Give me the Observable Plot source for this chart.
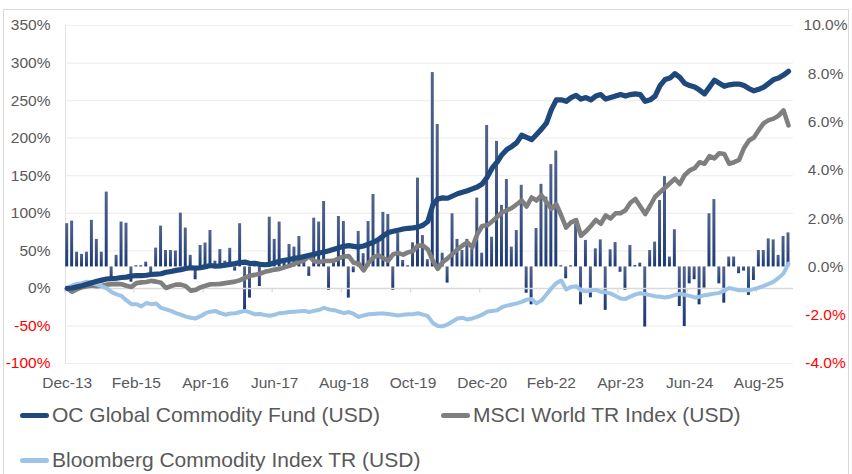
<!DOCTYPE html>
<html>
<head>
<meta charset="utf-8">
<script src="https://cdn.jsdelivr.net/npm/d3@7"></script>
<script src="https://cdn.jsdelivr.net/npm/@observablehq/plot@0.6"></script>
<style>
  html, body { margin: 0; padding: 0; background: #fff; }
  #wrap { position: relative; width: 852px; height: 474px; overflow: hidden; font-family: "Liberation Sans", Arial, sans-serif; }
  #border { position: absolute; left: 3px; top: 9px; width: 846px; height: 480px; border: 1px solid #d9d9d9; box-sizing: border-box; }
  #chart { position: absolute; left: 0; top: 0; }
  .leg { position: absolute; display: flex; align-items: center; height: 30px; font-size: 21px; color: #595959; white-space: nowrap; }
  .sw { display: inline-block; width: 29px; height: 5px; border-radius: 3px; margin-right: 3px; }
</style>
</head>
<body>
<div id="wrap">
  <div id="border"></div>
  <div id="chart"></div>
  <div id="legend"></div>
</div>
<script>
// ---------- data (monthly, Dec-13 onward) ----------
const ocFund = [0,0.5,2,3.5,5.5,7.5,9.5,11,12.5,13,13.5,14.5,15,16.5,17,17,17.5,18.5,19,19.5,
21.5,22.5,24,25,26.5,27.5,27,27.5,29,30.5,29.5,30,31,32,33,34.5,35,33,33.5,32,
31.5,32,34,36,37.5,38.5,40,41,42.5,44,45.5,47,48.5,50,52,54,56,57,56,55,
56.5,59,61.5,65,70,74.5,76,77.5,79,80,80.5,81.5,84,89,111,119,120.5,120,123,126,
128,130,132.5,135,139,148,160,168,178,185,189,194,204,201,198,205,212,220,238,251,
251,249,254,257,252,254,251,256,258,252,254,256,258,256,258,259,258,249,251,256,
270,278,280,286,281,273,270,268,264,259,268,277,273,269,271,272,272,270,266,263,
265,268,273,278,280,284,289];

const msciWorld = [0,-4.5,-1,1.5,3,4,3,3.5,5,5.5,6,5.5,3.5,2,7,8,8.5,10,9,7.5,
0.5,3,5,5,3,-3,-2,1.5,3.5,5.5,5.5,6,7,8,9,11,14,17,18,19.5,
22,23.5,25,26,28,30,33,35,38,43,36,35,36.5,36.5,37,40,42.5,43,34,33,
24,34,41.5,44,40,37,45.5,47,45,48,50,57,57,52,37,26,35,40,46,52,
57,61,55,72,83,84,89,95,101,104,107,112,117,109,121,117,124,115,106,112,
97,81,88,91,70,76,83,91,86,97,93,100,100,104,114,119,109,99,110,122,
128,134,140,146,139,151,157,160,168,166,176,173,180,179,166,168,171,187,197,201,
211,220,224,226,230,237,217];

const bbgCommodity = [0,4,6,7,9,7.5,5,3,0,-5,-8,-10,-16,-21,-21,-24,-19.5,-21,-20,-26,
-28,-30,-33,-35,-37.5,-39,-40,-37,-33,-31,-30,-33,-35,-33.5,-33,-31.5,-30,-32,-34.5,-34,
-35.5,-36.5,-35,-33,-32.5,-31.5,-31,-30.5,-30,-31.5,-30,-28.5,-26,-28,-29,-31,-33,-31.5,-34,-38,
-36,-34.5,-34,-33.5,-33.5,-34,-35,-36,-35,-34.5,-34.5,-33,-35,-37,-46,-50,-50.5,-48,-44,-40,
-39,-41.5,-40,-38,-35,-31,-30,-29,-25,-23,-21.5,-20,-18,-15,-14,-20,-16,-8,0,7,
10.5,-1.5,2,3,-2.5,-4,-3,-2,-4.5,-5,-7,-10,-13.5,-14,-11,-8,-6.5,-7.5,-9,-10.5,
-11,-12,-11,-9,-7,-8.5,-10,-12,-11,-9,-8,-7,-6,-3,0.5,-1,-2.5,-2.5,-2.5,-1,
1,3.5,6,9,14,20,33];

// monthly returns (right axis, %)
const monthlyReturn = [1.79,1.90,0.61,0.52,0.61,1.93,1.14,0.61,3.10,-0.53,0.48,1.86,1.81,-0.63,0.05,0.05,0.2,-0.42,0.78,1.69,
0.68,0.68,0.66,2.23,1.61,0.48,-0.53,0.89,0.99,1.51,0.24,0.72,0.24,0.77,-0.17,1.79,-1.80,-1.29,0.1,-0.81,
0.15,2.06,1.14,1.86,0.3,0.93,0.82,1.26,0.2,-0.39,2.02,1.86,2.71,-0.97,0.2,2.09,1.88,-1.29,-0.24,1.47,
0.55,1.88,3.0,1.1,2.26,2.17,-0.97,1.38,0.27,0.05,1.0,3.68,1.3,0.3,8.05,5.9,0.57,-0.67,2.2,1.14,
0.68,1.14,0.75,2.85,0.57,5.86,1.23,5.2,2.55,3.62,0.82,1.51,3.38,-1.09,-1.57,1.59,3.42,2.89,4.24,4.8,
0.05,-0.49,0.05,1.76,-1.57,1.1,-1.28,0.75,1.12,-1.8,0.71,1.01,-0.22,-0.97,0.89,0.06,0.16,-2.49,0.68,1.03,
2.75,3.74,0.41,1.54,-1.64,-2.47,-0.7,-0.53,-1.57,-0.88,2.2,2.79,-0.7,-1.5,0.41,0.41,-0.28,-0.17,-1.18,-0.56,
0.68,0.68,1.16,1.12,0.48,1.26,1.41];

const xTickLabels = ["Dec-13","Feb-15","Apr-16","Jun-17","Aug-18","Oct-19","Dec-20","Feb-22","Apr-23","Jun-24","Aug-25"];
const xTickEvery = 14;
const leftTicks = [-100,-50,0,50,100,150,200,250,300,350];
const rightTicks = [-4,-2,0,2,4,6,8,10];

const seriesNames = ["OC Global Commodity Fund (USD)", "MSCI World TR Index (USD)", "Bloomberg Commodity Index TR (USD)"];
const seriesColors = ["#1f497d", "#7f7f7f", "#9dc3e6"];

// ---------- helpers ----------
const N = ocFund.length;
const L0 = leftTicks[0], L1 = leftTicks[leftTicks.length - 1];
const R0 = rightTicks[0], R1 = rightTicks[rightTicks.length - 1];
const toLeft = r => L0 + (r - R0) * (L1 - L0) / (R1 - R0);
const fromLeft = l => R0 + (l - L0) * (R1 - R0) / (L1 - L0);

const lineData = [];
[ocFund, msciWorld, bbgCommodity].forEach((arr, s) => arr.forEach((v, i) => lineData.push({i, v, s: seriesNames[s]})));
const barData = monthlyReturn.map((v, i) => ({i, v}));
const tickIdx = xTickLabels.map((_, k) => k * xTickEvery);
const labelOf = new Map(tickIdx.map((t, k) => [t, xTickLabels[k]]));

const grey = "#595959", red = "#ff0000";

const plot = Plot.plot({
  width: 852, height: 400,
  marginLeft: 65, marginRight: 59, marginTop: 25, marginBottom: 37,
  x: {domain: [0, N - 1], range: [66.7, 788], axis: null},
  y: {domain: [L0, L1], axis: null},
  style: {fontFamily: "'Liberation Sans', Arial, sans-serif", fontSize: "15.5px", background: "transparent", overflow: "visible"},
  marks: [
    Plot.ruleY(leftTicks.filter(d => d !== 0), {stroke: "#efefef", strokeWidth: 1.2}),
    Plot.frame({anchor: "left", stroke: "#e3e3e3"}),
    Plot.rect(barData, {x1: d => d.i - 0.3, x2: d => d.i + 0.3, y1: () => toLeft(0), y2: d => toLeft(d.v), fill: "url(#barGrad)", inset: 0}),
    Plot.ruleY([0], {stroke: "#d9d9d9", strokeWidth: 1.5}),
    Plot.ruleX(tickIdx.map(t => t - 0.5), {y1: 0, y2: -6, stroke: "#d9d9d9", strokeWidth: 1.2}),
    Plot.line(lineData.filter(d => d.s === seriesNames[1]), {x: "i", y: "v", stroke: seriesColors[1], strokeWidth: 4.6, strokeLinejoin: "round", strokeLinecap: "round"}),
    Plot.line(lineData.filter(d => d.s === seriesNames[2]), {x: "i", y: "v", stroke: seriesColors[2], strokeWidth: 4, strokeLinejoin: "round", strokeLinecap: "round"}),
    Plot.line(lineData.filter(d => d.s === seriesNames[0]), {x: "i", y: "v", stroke: seriesColors[0], strokeWidth: 5.2, strokeLinejoin: "round", strokeLinecap: "round"}),
    Plot.axisY(leftTicks.filter(d => d >= 0), {anchor: "left", label: null, tickSize: 0, tickPadding: 15, tickFormat: d => d + "%", fill: grey}),
    Plot.axisY(leftTicks.filter(d => d < 0), {anchor: "left", label: null, tickSize: 0, tickPadding: 15, tickFormat: d => d + "%", fill: red}),
    Plot.axisY(rightTicks.filter(d => d >= 0).map(toLeft), {anchor: "right", label: null, tickSize: 0, tickPadding: 32, textAnchor: "middle", tickFormat: d => fromLeft(d).toFixed(1) + "%", fill: grey}),
    Plot.axisY(rightTicks.filter(d => d < 0).map(toLeft), {anchor: "right", label: null, tickSize: 0, tickPadding: 32, textAnchor: "middle", tickFormat: d => fromLeft(d).toFixed(1) + "%", fill: red}),
    Plot.axisX(tickIdx, {anchor: "bottom", label: null, tickSize: 0, tickPadding: 13, tickFormat: d => labelOf.get(d), fill: grey})
  ]
});

const svg = d3.select(plot);
const grad = svg.insert("defs", ":first-child").append("linearGradient")
  .attr("id", "barGrad").attr("x1", 0).attr("y1", 0).attr("x2", 0).attr("y2", 1);
grad.append("stop").attr("offset", "0%").attr("stop-color", "#53658d");
grad.append("stop").attr("offset", "100%").attr("stop-color", "#1b3977");

document.getElementById("chart").appendChild(plot);

// ---------- legend ----------
const legend = document.getElementById("legend");
const legPos = [{left: 20, cy: 415}, {left: 441, cy: 415}, {left: 20, cy: 460}];
seriesNames.forEach((name, k) => {
  const d = document.createElement("div");
  d.className = "leg";
  d.style.left = legPos[k].left + "px";
  d.style.top = (legPos[k].cy - 15) + "px";
  d.innerHTML = `<span class="sw" style="background:${seriesColors[k]}"></span><span>${name}</span>`;
  legend.appendChild(d);
});
</script>
</body>
</html>
